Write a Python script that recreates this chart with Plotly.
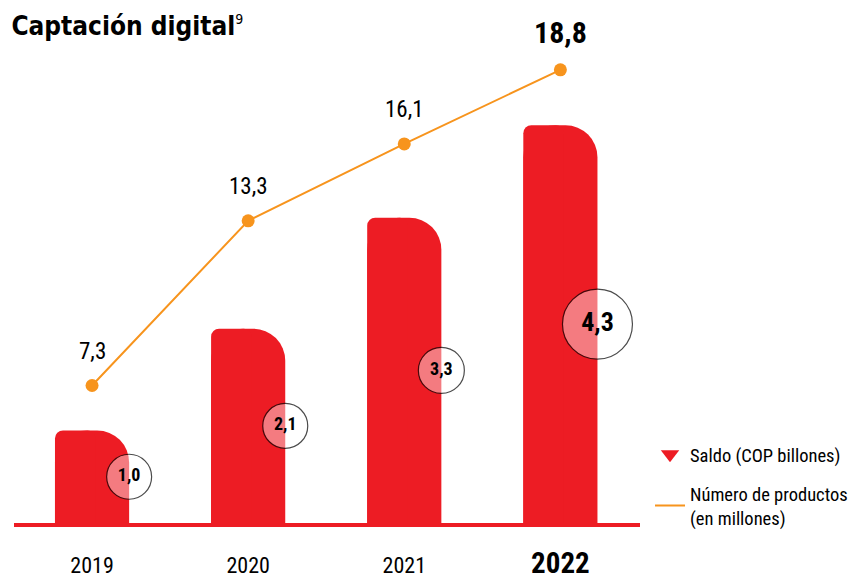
import plotly.graph_objects as go

years = ["2019", "2020", "2021", "2022"]
saldo = [1.0, 2.1, 3.3, 4.3]              # COP billones
productos = [7.3, 13.3, 16.1, 18.8]       # millones
saldo_labels = ["1,0", "2,1", "3,3", "4,3"]
productos_labels = ["7,3", "13,3", "16,1", "18,8"]

RED = "#ED1C24"
ORANGE = "#F7941D"
FONT = "Roboto Condensed, Liberation Sans Narrow, sans-serif"
TITLE_FONT = "DejaVu Sans Condensed, Roboto Condensed, sans-serif"

xs = list(range(len(years)))
BAR_W = 0.475

fig = go.Figure()

# main bars (large rounding -> right corner)
fig.add_trace(go.Bar(
    x=xs, y=saldo, width=BAR_W, marker=dict(color=RED, line=dict(width=0), cornerradius=32),
    showlegend=False, hoverinfo="skip"))
# left part overlay (small rounding -> left corner)
fig.add_trace(go.Bar(
    x=xs, y=saldo, width=0.26, offset=-BAR_W / 2,
    marker=dict(color=RED, line=dict(width=0), cornerradius=8),
    showlegend=False, hoverinfo="skip"))

# line of products
fig.add_trace(go.Scatter(
    x=xs, y=productos, yaxis="y2", mode="lines+markers",
    line=dict(color=ORANGE, width=2), marker=dict(color=ORANGE, size=13),
    showlegend=False, hoverinfo="skip", cliponaxis=False))

# circles with saldo labels (at bar right edge, mid-height)
sizes = [45, 45, 46, 70]
fonts = [18, 18, 18, 26]
fig.add_trace(go.Scatter(
    x=[x + BAR_W / 2 for x in xs], y=[v / 2 for v in saldo], mode="markers+text",
    marker=dict(size=sizes, color="rgba(255,255,255,0.6)", line=dict(color="black", width=1.2)),
    text=["<b>%s</b>" % t for t in saldo_labels], textposition="middle center",
    textfont=dict(family=FONT, size=fonts, color="black"),
    showlegend=False, hoverinfo="skip", cliponaxis=False))

# legend entries
fig.add_trace(go.Scatter(
    x=[None], y=[None], mode="markers", name="Saldo (COP billones)", legendgroup="a",
    marker=dict(symbol="triangle-down", color=RED, size=16)))
fig.add_trace(go.Scatter(
    x=[None], y=[None], mode="lines", name="Número de productos<br>(en millones)",
    legendgroup="b", line=dict(color=ORANGE, width=2)))

# labels above line points
for i, (x, lab) in enumerate(zip(xs, productos_labels)):
    last = i == len(xs) - 1
    fig.add_annotation(
        x=x, y=productos[i], yref="y2", text=("<b>%s</b>" % lab) if last else lab,
        showarrow=False, yshift=37 if last else 34,
        font=dict(family=FONT, size=30 if last else 23, color="black"))

ticktext = [y for y in years[:-1]] + ['<b><span style="font-size:29px">%s</span></b>' % years[-1]]

fig.update_layout(
    width=851, height=571,
    margin=dict(l=6, r=219, t=2, b=56, autoexpand=False),
    paper_bgcolor="white", plot_bgcolor="white",
    barmode="overlay",
    font=dict(family=FONT, color="black"),
    title=dict(text='<b>Captación digital</b><sup><span style="font-size:14px">9</span></sup>',
               x=0.004, xanchor="left",
               y=0.985, yanchor="top", xref="container", yref="container",
               font=dict(family=TITLE_FONT, size=26, color="black")),
    xaxis=dict(range=[-0.5, 3.51], tickvals=xs, ticktext=ticktext, showgrid=False,
               zeroline=False, showline=True, linecolor=RED, linewidth=3.5, ticks="",
               tickfont=dict(family=FONT, size=22, color="black"), ticklabelstandoff=20,
               automargin=False, fixedrange=True),
    yaxis=dict(range=[0, 5.546], visible=False, showgrid=False, zeroline=False,
               automargin=False),
    yaxis2=dict(range=[2.29, 20.98], overlaying="y", visible=False, showgrid=False,
                zeroline=False, automargin=False),
    legend=dict(x=1.016, xanchor="left", y=0.17, yanchor="top",
                font=dict(family=FONT, size=18.5, color="black"),
                bgcolor="rgba(0,0,0,0)", tracegroupgap=12),
)

fig.write_html("out.html")
